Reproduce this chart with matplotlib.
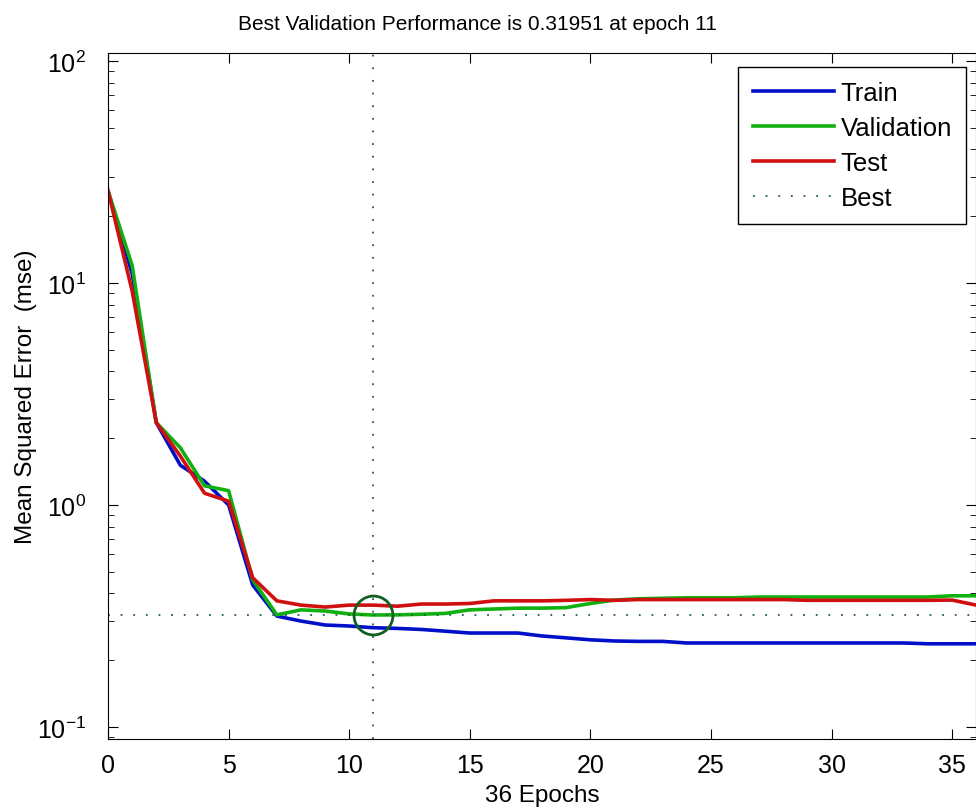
import numpy as np
from matplotlib import pyplot as plt

# data (one value per epoch, 0..36)
epochs = np.arange(0, 37)

train = [26.0, 11.0, 2.35, 1.51, 1.28, 1.00, 0.436, 0.316, 0.300, 0.288,
         0.285, 0.280, 0.278, 0.275, 0.270, 0.265, 0.265, 0.265, 0.257, 0.252,
         0.247, 0.244, 0.243, 0.243, 0.239, 0.239, 0.239, 0.239, 0.239, 0.239,
         0.239, 0.239, 0.239, 0.239, 0.237, 0.237, 0.237]

validation = [26.0, 12.0, 2.35, 1.81, 1.22, 1.16, 0.46, 0.32, 0.337, 0.333,
              0.323, 0.31951, 0.320, 0.322, 0.325, 0.337, 0.340, 0.343, 0.343, 0.345,
              0.360, 0.373, 0.378, 0.380, 0.382, 0.382, 0.382, 0.385, 0.385, 0.385,
              0.385, 0.385, 0.385, 0.385, 0.385, 0.390, 0.390]

test = [26.0, 9.2, 2.35, 1.66, 1.13, 1.04, 0.47, 0.37, 0.354, 0.347,
        0.354, 0.354, 0.350, 0.358, 0.358, 0.360, 0.370, 0.370, 0.370, 0.372,
        0.375, 0.372, 0.375, 0.375, 0.375, 0.375, 0.375, 0.375, 0.375, 0.372,
        0.372, 0.372, 0.372, 0.372, 0.372, 0.373, 0.354]

best_epoch = 11
best_perf = 0.31951

plt.rcParams['font.family'] = ['Liberation Sans', 'DejaVu Sans']

fig = plt.figure(figsize=(9.76, 8.12), dpi=100)
ax = fig.add_axes([0.1107, 0.0887, 0.8895, 0.8448])

ax.semilogy(epochs, train, color='#0010c8', lw=2.6, label='Train')
ax.semilogy(epochs, validation, color='#10b010', lw=2.6, label='Validation')
ax.semilogy(epochs, test, color='#d01010', lw=2.6, label='Test')
ax.axhline(best_perf, color='#1e6048', lw=1.3, ls=(0, (1, 6)), label='Best')
ax.axvline(best_epoch, color='#1e6048', lw=1.3, ls=(0, (1, 6)))
ax.plot(best_epoch, best_perf, 'o', ms=28, mfc='none', mec='#106020', mew=2)

ax.set_xlim(0, 36)
ax.set_ylim(0.0883, 108.7)
ax.set_xticks(range(0, 36, 5))
ax.tick_params(which='both', direction='in', top=True, right=True, labelsize=18)
ax.tick_params(which='major', length=7)
ax.tick_params(which='minor', length=4)
ax.tick_params(axis='x', pad=10)
ax.tick_params(axis='y', pad=16)

# title sits left of the axes centre in the reference
fig.text(477 / 976, 788 / 812, 'Best Validation Performance is 0.31951 at epoch 11',
         fontsize=15, ha='center', va='center')
ax.set_xlabel('36 Epochs', fontsize=17.5, labelpad=5)
ax.set_ylabel('Mean Squared Error  (mse)', fontsize=17.5, labelpad=0)

leg = ax.legend(loc='upper right', bbox_to_anchor=(966 / 976, 744 / 812),
                bbox_transform=fig.transFigure, borderaxespad=0,
                fontsize=18.5, handlelength=3.15, handletextpad=0.27,
                fancybox=False, framealpha=1, edgecolor='black',
                labelspacing=0.42, borderpad=0.55)
leg.get_frame().set_linewidth(1.0)

fig.savefig('out.png', dpi=100)
